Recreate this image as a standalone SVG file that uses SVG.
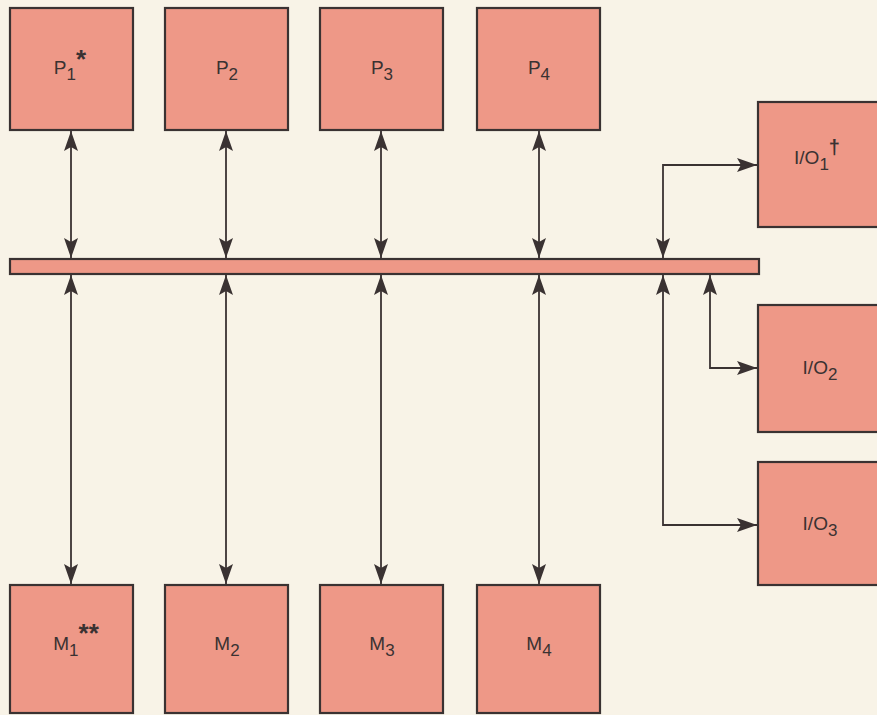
<svg xmlns="http://www.w3.org/2000/svg" width="877" height="715" viewBox="0 0 877 715">
<style>
.box{fill:#EE9887;stroke:#3a3232;stroke-width:2.2}
.ln{fill:none;stroke:#3a3232;stroke-width:1.8}
.t{font-family:"Liberation Sans",Arial,sans-serif;font-size:19px;fill:#3a3232;text-anchor:middle}
.s{font-size:17px}
.st{font-size:26px;font-weight:bold}
</style>
<defs>
<marker id="ah2" viewBox="0 0 20 14" refX="20" refY="7" markerWidth="20" markerHeight="14" markerUnits="userSpaceOnUse" orient="auto-start-reverse">
<path d="M0,0 L20,7 L0,14 L4,7 Z" fill="#3a3232"/>
</marker>
</defs>
<rect width="877" height="715" fill="#F8F3E7"/>
<g id="connectors">
<line class="ln" x1="71" y1="131" x2="71" y2="258" marker-start="url(#ah2)" marker-end="url(#ah2)"/>
<line class="ln" x1="226" y1="131" x2="226" y2="258" marker-start="url(#ah2)" marker-end="url(#ah2)"/>
<line class="ln" x1="381" y1="131" x2="381" y2="258" marker-start="url(#ah2)" marker-end="url(#ah2)"/>
<line class="ln" x1="539" y1="131" x2="539" y2="258" marker-start="url(#ah2)" marker-end="url(#ah2)"/>
<line class="ln" x1="71" y1="275" x2="71" y2="584" marker-start="url(#ah2)" marker-end="url(#ah2)"/>
<line class="ln" x1="226" y1="275" x2="226" y2="584" marker-start="url(#ah2)" marker-end="url(#ah2)"/>
<line class="ln" x1="381" y1="275" x2="381" y2="584" marker-start="url(#ah2)" marker-end="url(#ah2)"/>
<line class="ln" x1="539" y1="275" x2="539" y2="584" marker-start="url(#ah2)" marker-end="url(#ah2)"/>
<polyline class="ln" points="663,258 663,165 757,165" marker-start="url(#ah2)" marker-end="url(#ah2)"/>
<polyline class="ln" points="710,275 710,368 757,368" marker-start="url(#ah2)" marker-end="url(#ah2)"/>
<polyline class="ln" points="663,275 663,525 757,525" marker-start="url(#ah2)" marker-end="url(#ah2)"/>
</g>
<g id="bus"><rect class="box" x="10" y="259" width="749" height="15"/></g>
<g id="P1"><rect class="box" x="10" y="8" width="123" height="122"/><text class="t" x="70" y="74">P<tspan class="s" dy="6">1</tspan><tspan class="st" dy="-12">*</tspan></text></g>
<g id="P2"><rect class="box" x="165" y="8" width="123" height="122"/><text class="t" x="227" y="74">P<tspan class="s" dy="6">2</tspan></text></g>
<g id="P3"><rect class="box" x="320" y="8" width="123" height="122"/><text class="t" x="382" y="74">P<tspan class="s" dy="6">3</tspan></text></g>
<g id="P4"><rect class="box" x="477" y="8" width="123" height="122"/><text class="t" x="539" y="74">P<tspan class="s" dy="6">4</tspan></text></g>
<g id="M1"><rect class="box" x="10" y="585" width="123" height="128"/><text class="t" x="76" y="650">M<tspan class="s" dy="6">1</tspan><tspan class="st" dy="-14">**</tspan></text></g>
<g id="M2"><rect class="box" x="165" y="585" width="123" height="128"/><text class="t" x="227" y="650">M<tspan class="s" dy="6">2</tspan></text></g>
<g id="M3"><rect class="box" x="320" y="585" width="123" height="128"/><text class="t" x="382" y="650">M<tspan class="s" dy="6">3</tspan></text></g>
<g id="M4"><rect class="box" x="477" y="585" width="123" height="128"/><text class="t" x="539" y="650">M<tspan class="s" dy="6">4</tspan></text></g>
<g id="IO1"><rect class="box" x="758" y="102" width="130" height="125"/><text class="t" x="817" y="164">I/O<tspan class="s" dy="6">1</tspan><tspan dy="-16" font-size="20" font-weight="bold">†</tspan></text></g>
<g id="IO2"><rect class="box" x="758" y="305" width="130" height="127"/><text class="t" x="820" y="374">I/O<tspan class="s" dy="6">2</tspan></text></g>
<g id="IO3"><rect class="box" x="758" y="462" width="130" height="123"/><text class="t" x="820" y="530">I/O<tspan class="s" dy="6">3</tspan></text></g>
</svg>
